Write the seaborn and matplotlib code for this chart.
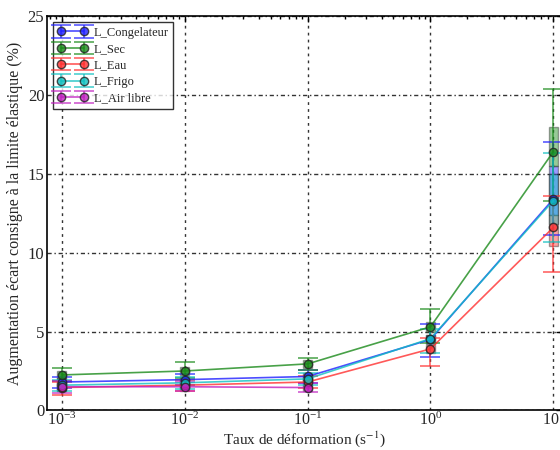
import numpy as np
import matplotlib
matplotlib.use("Agg")
import matplotlib.pyplot as plt
import seaborn as sns

# =========================
# DATA
# =========================
rates = [1e-3, 1e-2, 1e-1, 1e0, 1e1]

labels = ["L_Congelateur", "L_Sec", "L_Eau", "L_Frigo", "L_Air libre"]
colors = ["#1f1fff", "#1a8a1a", "#ff3030", "#10c0c0", "#c020c0"]

congelateur = [1.8, 1.95, 2.15, 4.5, 13.4]
sec = [2.25, 2.5, 2.95, 5.3, 16.4]
eau = [1.45, 1.6, 1.8, 3.9, 11.6]
frigo = [1.6, 1.75, 2.0, 4.55, 13.3]
air_libre = [1.5, 1.5, 1.45]

# lower / upper error bar lengths
congelateur_err = ([0.35, 0.35, 0.4, 1.1, 2.3], [0.3, 0.35, 0.4, 1.0, 3.6])
sec_err = ([0.4, 0.45, 0.4, 1.0, 3.1], [0.45, 0.6, 0.4, 1.1, 4.0])
eau_err = ([0.5, 0.4, 0.4, 1.1, 2.8], [0.35, 0.35, 0.35, 0.7, 2.0])
frigo_err = ([0.35, 0.4, 0.4, 0.9, 2.6], [0.35, 0.35, 0.35, 0.6, 3.0])
air_libre_err = ([0.4, 0.3, 0.3], [0.35, 0.3, 0.3])

# shaded boxes around each point (low, high)
congelateur_box = ([1.55, 1.7, 1.9, 4.2, 12.4], [2.05, 2.2, 2.4, 4.8, 15.5])
sec_box = ([2.0, 2.25, 2.7, 5.0, 15.5], [2.5, 2.75, 3.2, 5.6, 18.0])
eau_box = ([1.2, 1.35, 1.55, 3.65, 10.4], [1.7, 1.85, 2.05, 4.15, 12.4])
frigo_box = ([1.35, 1.5, 1.75, 4.3, 11.8], [1.85, 2.0, 2.25, 4.8, 15.0])
air_libre_box = ([1.25, 1.25, 1.2], [1.75, 1.75, 1.7])

series = [congelateur, sec, eau, frigo, air_libre]
errors = [congelateur_err, sec_err, eau_err, frigo_err, air_libre_err]
boxes = [congelateur_box, sec_box, eau_box, frigo_box, air_libre_box]

# =========================
# STYLE
# =========================
sns.set_theme(style="white")
plt.rcParams["font.family"] = ["Liberation Serif", "DejaVu Serif"]
plt.rcParams["mathtext.fontset"] = "stix"
plt.rcParams["xtick.direction"] = "in"
plt.rcParams["ytick.direction"] = "in"

fig = plt.figure(figsize=(5.6, 4.5), dpi=100)
ax = fig.add_axes([0.084, 0.088, 0.92, 0.876])

# =========================
# PLOT
# =========================
for vals, err, box, lab, col in zip(series, errors, boxes, labels, colors):
    x = np.array(rates[:len(vals)])
    lo, hi = np.array(box[0]), np.array(box[1])
    ax.bar(x, hi - lo, bottom=lo, width=x * 0.17, color=col, alpha=0.45,
           edgecolor="#333333", linewidth=1.0, zorder=3)
    ax.errorbar(x, vals, yerr=[err[0], err[1]], fmt="-o", color=col,
                markerfacecolor=col, markeredgecolor="#222222", markersize=6,
                linewidth=1.2, elinewidth=1.1, capsize=7, capthick=1.1,
                alpha=0.8, label=lab, zorder=4)

ax.set_xscale("log")
ax.set_xlim(10 ** -3.122, 10 ** 1.073)
ax.set_ylim(0, 25)
ax.set_yticks([0, 5, 10, 15, 20, 25])

ax.xaxis.grid(True, which="major", linestyle=(0, (2, 3)), color="#333333", linewidth=1.0)
ax.yaxis.grid(True, which="major", linestyle=(0, (3, 2, 1, 2)), color="#333333", linewidth=1.0)
ax.set_axisbelow(True)

ax.tick_params(axis="both", which="both", top=True, right=True, labelsize=12,
               color="black", length=4, width=1)
ax.tick_params(axis="x", which="major", labelsize=11.5, pad=1)
ax.tick_params(axis="both", which="minor", length=2.5)
ax.tick_params(axis="y", which="major", pad=2)

for sp in ax.spines.values():
    sp.set_color("black")
    sp.set_linewidth(1.2)

ax.set_xlabel("Taux de déformation (s$^{-1}$)", fontsize=11, labelpad=0)
ax.set_ylabel("Augmentation écart consigne à la limite élastique (%)", fontsize=11.5, labelpad=3)

leg = ax.legend(loc="upper left", fontsize=9, numpoints=2, frameon=True,
                fancybox=False, edgecolor="black", handlelength=2.4,
                handletextpad=0.5, borderaxespad=0.5, labelspacing=0.35,
                borderpad=0.35)
leg.get_frame().set_linewidth(1.0)

plt.savefig("out.png", dpi=100)
